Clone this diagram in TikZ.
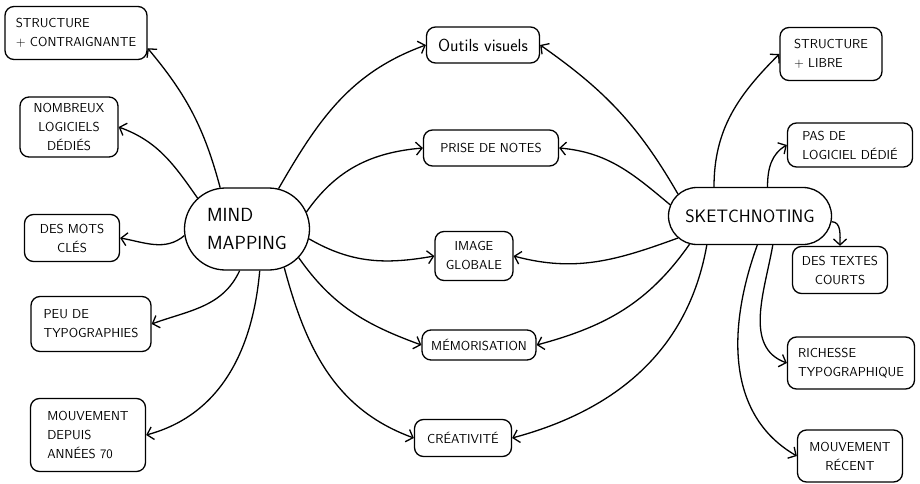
\documentclass[tikz,border=0pt]{standalone}
\usepackage{fontspec}
\usetikzlibrary{arrows.meta,shapes.misc}

\begin{document}
\begin{tikzpicture}[x=1pt, y=1pt, -{Straight Barb[length=6pt,width=13pt]}, line width=1.3pt,
hub/.style = {draw, rounded rectangle, inner sep=6pt, font=\sffamily\fontsize{19}{28}\selectfont},
leaf/.style = {draw, rounded corners=9pt, inner sep=3pt, font=\sffamily\fontsize{13}{19}\selectfont}]
    \useasboundingbox (0,0) rectangle (920,-484);

    \node[hub, minimum width=137pt, minimum height=82pt, align=left] (1) at (247,-229) {MIND\\MAPPING};
    \node[hub, minimum width=175pt, minimum height=57pt] (2) at (750,-216) {\fontsize{18}{22}\selectfont SKETCHNOTING};

    \node[leaf, minimum width=142pt, minimum height=53pt, align=left] (3) at (76,-33) {STRUCTURE\\+ CONTRAIGNANTE};
    \node[leaf, minimum width=98pt, minimum height=60pt, align=center] (4) at (69,-127) {NOMBREUX\\LOGICIELS\\DÉDIÉS};
    \node[leaf, minimum width=95pt, minimum height=47pt, align=center] (5) at (72,-238) {DES MOTS\\CLÉS};
    \node[leaf, minimum width=120pt, minimum height=55pt, align=left] (6) at (91,-324) {PEU DE\\TYPOGRAPHIES};
    \node[leaf, minimum width=115pt, minimum height=73pt, align=left] (7) at (88,-435) {MOUVEMENT\\DEPUIS\\ANNÉES 70};

    \node[leaf, minimum width=113pt, minimum height=36pt] (8) at (483,-45) {\fontsize{17.5}{20}\selectfont Outils visuels};
    \node[leaf, minimum width=135pt, minimum height=36pt] (9) at (491,-148) {PRISE DE NOTES};
    \node[leaf, minimum width=78pt, minimum height=49pt, align=center] (10) at (474,-256) {IMAGE\\GLOBALE};
    \node[leaf, minimum width=114pt, minimum height=30pt] (11) at (479,-345) {MÉMORISATION};
    \node[leaf, minimum width=97pt, minimum height=37pt] (12) at (463,-438) {CRÉATIVITÉ};

    \node[leaf, minimum width=102pt, minimum height=53pt, align=left] (13) at (831,-54) {STRUCTURE\\+ LIBRE};
    \node[leaf, minimum width=125pt, minimum height=44pt, align=left] (14) at (850,-145) {PAS DE\\LOGICIEL DÉDIÉ};
    \node[leaf, minimum width=95pt, minimum height=47pt, align=center] (15) at (840,-270) {DES TEXTES\\COURTS};
    \node[leaf, minimum width=127pt, minimum height=52pt, align=left] (16) at (851,-363) {RICHESSE\\TYPOGRAPHIQUE};
    \node[leaf, minimum width=105pt, minimum height=52pt, align=center] (17) at (850,-456) {MOUVEMENT\\RÉCENT};

    \draw (1.123) to[out=105, in=-50] (3.-12);
    \draw (1.148) to[out=125, in=-20] (4.east);
    \draw (1.186) to[out=220, in=-10] (5.east);
    \draw (1.260) to[out=-115, in=20] (6.east);
    \draw (1.287) to[out=-95, in=15] (7.east);

    \draw (1.52) to[out=60, in=200] (8.west);
    \draw (1.16) to[out=55, in=185] (9.west);
    \draw (1.351) to[out=-30, in=190] (10.west);
    \draw (1.331) to[out=-55, in=160] (11.west);
    \draw (1.314) to[out=-75, in=160] (12.west);

    \draw (2.163) to[out=120, in=-35] (8.east);
    \draw (2.172) to[out=140, in=-5] (9.east);
    \draw (2.197) to[out=200, in=-15] (10.east);
    \draw (2.205) to[out=235, in=15] (11.east);
    \draw (2.214) to[out=-100, in=15] (12.east);

    \draw (2.141) to[out=90, in=-135] (13.west);
    \draw (2.59) to[out=90, in=210] (14.west);
    \draw (2.356) to[out=0, in=90] (15.north);
    \draw (2.308) to[out=-100, in=160] (16.west);
    \draw (2.284) to[out=-110, in=150] (17.west);

\end{tikzpicture}
\end{document}
